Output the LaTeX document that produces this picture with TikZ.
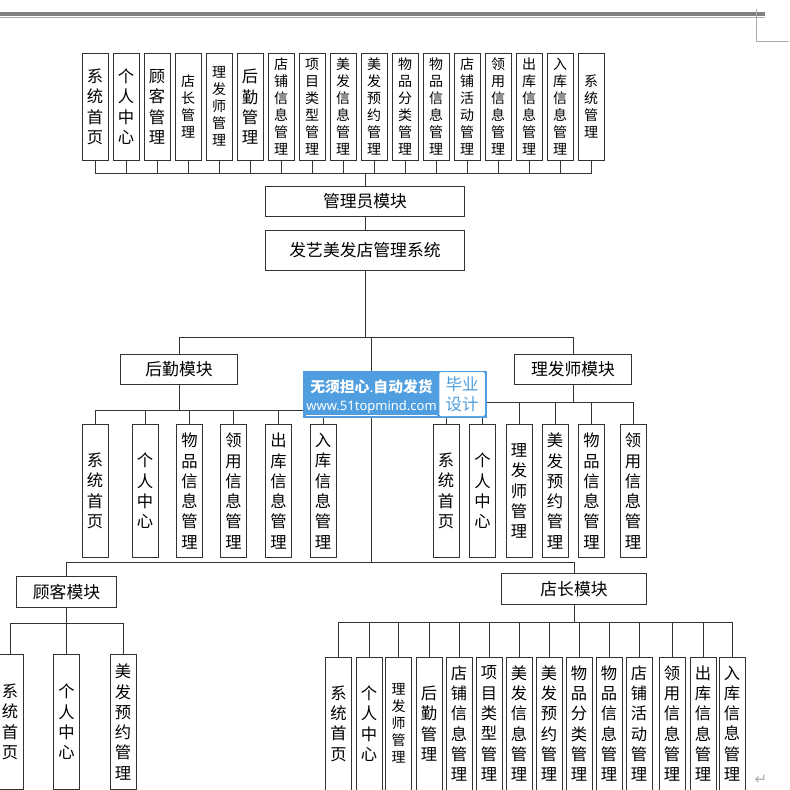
\documentclass[tikz,border=0pt]{standalone}
\usepackage{fontspec}
\setmainfont{Noto Sans CJK SC}
\newfontfamily\latinfont{Noto Sans}
\definecolor{linec}{HTML}{333333}
\definecolor{pagec}{HTML}{808080}
\definecolor{markc}{HTML}{AAAAAA}
\definecolor{wmblue}{HTML}{4F9FE0}

\begin{document}
\begin{tikzpicture}[x=1pt,y=-1pt,
        line width=1pt,draw=linec,
        vbox/.style={draw=linec,fill=white,anchor=north,inner sep=0pt,minimum width=26pt,align=center},
        hbox/.style={draw=linec,fill=white,inner sep=0pt,font=\fontsize{16.8}{18}\selectfont},
        bigtxt/.style={font=\fontsize{16.3}{20.3}\selectfont},
        smalltxt/.style={font=\fontsize{14}{17}\selectfont},
        toprow/.style={vbox,minimum height=107.5pt},
        midrow/.style={vbox,minimum height=133pt},
        lowrow/.style={vbox,minimum height=133pt}]
    \useasboundingbox (0,0) rectangle (790,790);

    \fill[pagec] (0,12.3) rectangle (765,16);
    \fill[markc] (0,16.7) rectangle (765,17.6);
    \draw[markc,line width=.7pt] (756,9) -- (756,41) -- (789,41);

    \node[toprow,bigtxt] (t1) at (95,52.5) {系\\统\\首\\页};
    \node[toprow,bigtxt] (t2) at (126,52.5) {个\\人\\中\\心};
    \node[toprow,bigtxt] (t3) at (157,52.5) {顾\\客\\管\\理};
    \node[toprow,smalltxt] (t4) at (188,52.5) {店\\长\\管\\理};
    \node[toprow,smalltxt] (t5) at (219,52.5) {理\\发\\师\\管\\理};
    \node[toprow,bigtxt] (t6) at (250,52.5) {后\\勤\\管\\理};
    \node[toprow,smalltxt] (t7) at (281,52.5) {店\\铺\\信\\息\\管\\理};
    \node[toprow,smalltxt] (t8) at (312,52.5) {项\\目\\类\\型\\管\\理};
    \node[toprow,smalltxt] (t9) at (343,52.5) {美\\发\\信\\息\\管\\理};
    \node[toprow,smalltxt] (t10) at (374,52.5) {美\\发\\预\\约\\管\\理};
    \node[toprow,smalltxt] (t11) at (405,52.5) {物\\品\\分\\类\\管\\理};
    \node[toprow,smalltxt] (t12) at (436,52.5) {物\\品\\信\\息\\管\\理};
    \node[toprow,smalltxt] (t13) at (467,52.5) {店\\铺\\活\\动\\管\\理};
    \node[toprow,smalltxt] (t14) at (498,52.5) {领\\用\\信\\息\\管\\理};
    \node[toprow,smalltxt] (t15) at (529,52.5) {出\\库\\信\\息\\管\\理};
    \node[toprow,smalltxt] (t16) at (560,52.5) {入\\库\\信\\息\\管\\理};
    \node[toprow,smalltxt] (t17) at (591,52.5) {系\\统\\管\\理};
    \coordinate (topbus) at (365,173);
    \draw (t1.south) |- (topbus) (t2.south) |- (topbus) (t3.south) |- (topbus)
        (t4.south) |- (topbus) (t5.south) |- (topbus) (t6.south) |- (topbus)
        (t7.south) |- (topbus) (t8.south) |- (topbus) (t9.south) |- (topbus)
        (t10.south) |- (topbus) (t11.south) |- (topbus) (t12.south) |- (topbus)
        (t13.south) |- (topbus) (t14.south) |- (topbus) (t15.south) |- (topbus)
        (t16.south) |- (topbus) (t17.south) |- (topbus);

    \node[hbox,minimum width=199.5pt,minimum height=30pt] (admin) at (365,201.5) {管理员模块};
    \node[hbox,minimum width=199.5pt,minimum height=40pt] (sys) at (365,250) {发艺美发店管理系统};
    \coordinate (mainbus) at (365,337);
    \coordinate (midbus) at (371,337);
    \coordinate (lowbus) at (371,562);
    \draw (topbus) -- (admin) (admin) -- (sys) (sys) -- (mainbus) (midbus) -- (lowbus);

    \node[hbox,minimum width=116.5pt,minimum height=30pt] (hq) at (179,369) {后勤模块};
    \node[hbox,minimum width=116.5pt,minimum height=30pt] (barber) at (573,369) {理发师模块};
    \draw (hq.north) |- (mainbus) (barber.north) |- (mainbus);

    \node[midrow,bigtxt] (h1) at (95,424) {系\\统\\首\\页};
    \node[midrow,bigtxt] (h2) at (145,424) {个\\人\\中\\心};
    \node[midrow,bigtxt] (h3) at (189.5,424) {物\\品\\信\\息\\管\\理};
    \node[midrow,bigtxt] (h4) at (233.5,424) {领\\用\\信\\息\\管\\理};
    \node[midrow,bigtxt] (h5) at (278.5,424) {出\\库\\信\\息\\管\\理};
    \node[midrow,bigtxt] (h6) at (323,424) {入\\库\\信\\息\\管\\理};
    \coordinate (hqbus) at (179,410);
    \draw (hq) -- (hqbus) (h1.north) |- (hqbus) (h2.north) |- (hqbus) (h3.north) |- (hqbus)
        (h4.north) |- (hqbus) (h5.north) |- (hqbus) (h6.north) |- (hqbus);

    \node[midrow,bigtxt] (b1) at (446,424) {系\\统\\首\\页};
    \node[midrow,bigtxt] (b2) at (482.5,424) {个\\人\\中\\心};
    \node[midrow,bigtxt] (b3) at (519,424) {理\\发\\师\\管\\理};
    \node[midrow,bigtxt] (b4) at (555,424) {美\\发\\预\\约\\管\\理};
    \node[midrow,bigtxt] (b5) at (591.5,424) {物\\品\\信\\息\\管\\理};
    \node[midrow,bigtxt] (b6) at (633,424) {领\\用\\信\\息\\管\\理};
    \coordinate (barberbus) at (573,402);
    \draw (barber) -- (barberbus) (b1.north) |- (barberbus) (b2.north) |- (barberbus) (b3.north) |- (barberbus)
        (b4.north) |- (barberbus) (b5.north) |- (barberbus) (b6.north) |- (barberbus);

    \node[hbox,minimum width=100.5pt,minimum height=30.5pt] (cust) at (66.5,592) {顾客模块};
    \node[hbox,minimum width=144.5pt,minimum height=30.5pt] (boss) at (574,589) {店长模块};
    \draw (cust.north) |- (lowbus) (boss.north) |- (lowbus);

    \node[lowrow,bigtxt,minimum height=135pt] (c1) at (10,654) {系\\统\\首\\页};
    \node[lowrow,bigtxt,minimum height=135pt] (c2) at (66.5,654) {个\\人\\中\\心};
    \node[lowrow,bigtxt,minimum height=135pt] (c3) at (123,654) {美\\发\\预\\约\\管\\理};
    \coordinate (custbus) at (66.5,623.5);
    \draw (cust) -- (c2) (c1.north) |- (custbus) (c3.north) |- (custbus);

    \node[lowrow,bigtxt] (s1) at (338.5,656.5) {系\\统\\首\\页};
    \node[lowrow,bigtxt] (s2) at (369,656.5) {个\\人\\中\\心};
    \node[lowrow,smalltxt] (s3) at (398.7,656.5) {理\\发\\师\\管\\理};
    \node[lowrow,bigtxt] (s4) at (429,656.5) {后\\勤\\管\\理};
    \node[lowrow,bigtxt] (s5) at (459,656.5) {店\\铺\\信\\息\\管\\理};
    \node[lowrow,bigtxt] (s6) at (489,656.5) {项\\目\\类\\型\\管\\理};
    \node[lowrow,bigtxt] (s7) at (519,656.5) {美\\发\\信\\息\\管\\理};
    \node[lowrow,bigtxt] (s8) at (549,656.5) {美\\发\\预\\约\\管\\理};
    \node[lowrow,bigtxt] (s9) at (579,656.5) {物\\品\\分\\类\\管\\理};
    \node[lowrow,bigtxt] (s10) at (609,656.5) {物\\品\\信\\息\\管\\理};
    \node[lowrow,bigtxt] (s11) at (639,656.5) {店\\铺\\活\\动\\管\\理};
    \node[lowrow,bigtxt] (s12) at (672,656.5) {领\\用\\信\\息\\管\\理};
    \node[lowrow,bigtxt] (s13) at (703,656.5) {出\\库\\信\\息\\管\\理};
    \node[lowrow,bigtxt] (s14) at (732,656.5) {入\\库\\信\\息\\管\\理};
    \coordinate (bossbus) at (574,622.7);
    \draw (boss) -- (bossbus) (s1.north) |- (bossbus) (s2.north) |- (bossbus) (s3.north) |- (bossbus)
        (s4.north) |- (bossbus) (s5.north) |- (bossbus) (s6.north) |- (bossbus) (s7.north) |- (bossbus)
        (s8.north) |- (bossbus) (s9.north) |- (bossbus) (s10.north) |- (bossbus) (s11.north) |- (bossbus)
        (s12.north) |- (bossbus) (s13.north) |- (bossbus) (s14.north) |- (bossbus);

    \node[text=markc,inner sep=0pt,font=\fontsize{15}{15}\fontspec{DejaVu Sans}\selectfont] (para) at (761,779.5) {↵};

    \node[fill=wmblue,inner sep=0pt,minimum width=183.5pt,minimum height=46.5pt] (wm) at (395,394.4) {};
    \node[fill=white,rounded corners=1.5pt,inner sep=0pt,align=center,text=wmblue,minimum width=45.5pt,minimum height=44pt,
        font=\fontsize{16.5}{19.5}\selectfont] (wmtag) at (462,394.2) {毕业\\设计};
    \node[text=white,inner sep=0pt,font=\fontsize{14.8}{16}\bfseries] (wmtitle) at (371.5,386.5) {无须担心{\latinfont .}自动发货};
    \node[text=white,inner sep=0pt,font=\fontsize{13}{15}\latinfont\selectfont] (wmurl) at (371.5,408) {\underline{www.51topmind.com}};
\end{tikzpicture}
\end{document}
